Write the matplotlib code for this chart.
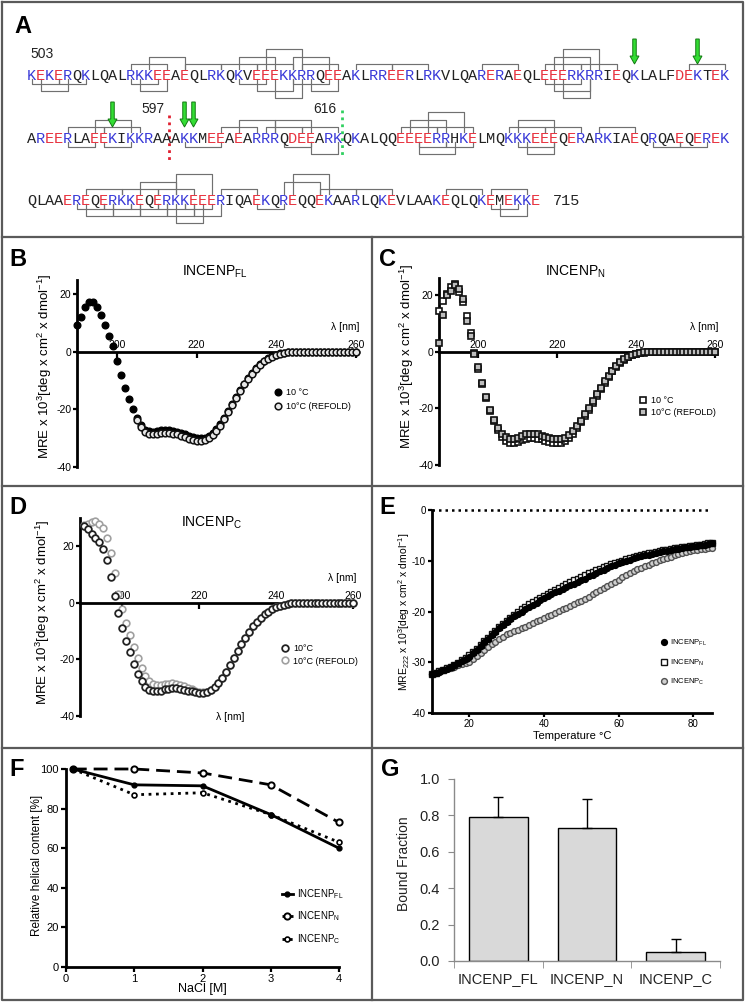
import numpy as np
import matplotlib
matplotlib.use('Agg')
import matplotlib.pyplot as plt
from matplotlib.patches import FancyArrow

plt.rcParams['font.family'] = ['Liberation Sans', 'DejaVu Sans']
plt.rcParams['mathtext.fontset'] = 'custom'
plt.rcParams['mathtext.rm'] = 'Liberation Sans'
plt.rcParams['mathtext.it'] = 'Liberation Sans:italic'
plt.rcParams['mathtext.bf'] = 'Liberation Sans:bold'
plt.rcParams['axes.unicode_minus'] = False

# ---------------- data ----------------
# panel A: INCENP 503-715, salt-bridge brackets (row, i, j, level; <0 = below)
seq_rows = ['KEKERQKLQALRKKEEAEQLRKQKVEEEKKRRQEEAKLRREERLRKVLQARERAEQLEEERKRRIEQKLALFDEKTEK',
            'AREERLAEEKIKKRAAAKKMEEAEARRRQDEEARKQKALQQEEEERRHKELMQKKKEEEQERARKIAEQRQAEQEREK',
            'QLAAEREQERKKEQERKKEEERIQAEKQREQQEKAARLQKEVLAAKEQLQKEMEKKE']
brackets = [
    (0, 11, 15, 1), (0, 13, 17, 2), (0, 17, 21, 1), (0, 21, 25, 1), (0, 23, 27, 2), (0, 25, 29, 1),
    (0, 26, 30, 3), (0, 29, 33, 2), (0, 30, 34, 1), (0, 36, 40, 1), (0, 40, 44, 1), (0, 50, 54, 1),
    (0, 57, 61, 1), (0, 58, 62, 2), (0, 59, 63, 3), (0, 61, 65, 1), (0, 73, 77, 1),
    (0, 0, 3, -1), (0, 3, 6, -1), (0, 1, 4, -2), (0, 11, 14, -1), (0, 12, 15, -2), (0, 23, 26, -1),
    (0, 25, 29, -2), (0, 27, 30, -3), (0, 29, 33, -1), (0, 31, 34, -2), (0, 57, 61, -1),
    (0, 58, 62, -2), (0, 59, 62, -3),
    (1, 4, 8, 1), (1, 8, 12, 1), (1, 7, 11, 2), (1, 21, 25, 1), (1, 26, 30, 1), (1, 30, 34, 1),
    (1, 23, 27, 2), (1, 27, 31, 2), (1, 41, 45, 1), (1, 42, 46, 2), (1, 44, 48, 3), (1, 45, 49, 1),
    (1, 53, 57, 1), (1, 54, 58, 2), (1, 57, 61, 1), (1, 63, 67, 1),
    (1, 4, 7, -1), (1, 8, 11, -1), (1, 17, 21, -1), (1, 28, 31, -1), (1, 31, 34, -2),
    (1, 43, 46, -1), (1, 43, 47, -2), (1, 46, 49, -1), (1, 54, 58, -1), (1, 55, 58, -2),
    (1, 69, 72, -1), (1, 72, 75, -1),
    (2, 6, 10, 1), (2, 10, 14, 1), (2, 12, 16, 2), (2, 14, 18, 1), (2, 16, 20, 3), (2, 21, 25, 1),
    (2, 28, 32, 2), (2, 29, 33, 3), (2, 32, 36, 1), (2, 36, 40, 1), (2, 46, 50, 1), (2, 51, 55, 1),
    (2, 5, 8, -1), (2, 8, 11, -1), (2, 11, 14, -1), (2, 14, 17, -1), (2, 17, 20, -1),
    (2, 6, 9, -2), (2, 9, 12, -2), (2, 12, 15, -2), (2, 15, 18, -2), (2, 18, 21, -2),
    (2, 16, 19, -3), (2, 25, 28, -1), (2, 51, 54, -1), (2, 52, 55, -2),
]
arrow_sites = [(0, 67), (0, 74), (1, 9), (1, 17), (1, 18)]

# panels B-D: far-UV CD spectra, MRE x 10^3
wl = np.arange(190, 261)
B_10 = [9.5, 12.0, 15.5, 17.5, 17.5, 15.5, 13.0, 9.5, 5.5, 2.0,
        -3.0, -8.0, -12.5, -16.5, -20.0, -23.0, -25.5, -27.0, -27.6, -27.7,
        -27.5, -27.3, -27.2, -27.3, -27.5, -27.8, -28.2, -28.7, -29.2, -29.6,
        -29.9, -30.0, -29.8, -29.2, -28.2, -26.8, -25.0, -22.9, -20.6, -18.1,
        -15.6, -13.2, -11.0, -9.0, -7.2, -5.6, -4.2, -3.0, -2.1, -1.4,
        -0.9, -0.5, -0.3, -0.2, -0.1, 0.0, 0.0, 0.0, 0.0, 0.0,
        0.0, 0.0, 0.0, 0.0, 0.0, 0.0, 0.0, 0.0, 0.0, 0.0, 0.0]
wl_B_refold = np.arange(205, 261)
B_refold = [-23.5, -26.0, -27.8, -28.5, -28.6,
            -28.4, -28.2, -28.1, -28.2, -28.4, -28.7, -29.1, -29.6, -30.1, -30.5,
            -30.8, -30.9, -30.6, -30.0, -29.0, -27.5, -25.6, -23.4, -21.0, -18.5,
            -16.0, -13.6, -11.3, -9.3, -7.5, -5.8, -4.4, -3.2, -2.3, -1.6,
            -1.0, -0.6, -0.4, -0.2, -0.1, 0.0, 0.0, 0.0, 0.0, 0.0,
            0.0, 0.0, 0.0, 0.0, 0.0, 0.0, 0.0, 0.0, 0.0, 0.0, 0.0]
C_10 = [14.5, 18.0, 20.5, 23.0, 24.0, 21.0, 17.5, 12.5, 6.5, -0.5,
        -6.0, -11.5, -16.5, -21.0, -24.5, -27.5, -30.0, -31.5, -32.3, -32.3,
        -31.8, -31.2, -30.7, -30.5, -30.5, -30.7, -31.0, -31.5, -31.9, -32.2,
        -32.3, -32.2, -31.6, -30.5, -29.0, -27.0, -25.0, -22.8, -20.5, -18.0,
        -15.6, -13.2, -11.0, -8.9, -7.0, -5.4, -4.0, -2.9, -2.0, -1.3,
        -0.8, -0.5, -0.3, -0.2, -0.1, 0.0, 0.0, 0.0, 0.0, 0.0,
        0.0, 0.0, 0.0, 0.0, 0.0, 0.0, 0.0, 0.0, 0.0, 0.0, 0.0]
C_refold = [3.0, 13.0, 20.0, 21.5, 23.5, 22.0, 18.5, 11.0, 5.5, -0.8,
            -5.5, -11.0, -16.0, -20.5, -24.0, -27.0, -29.0, -30.2, -30.8, -30.8,
            -30.3, -29.7, -29.2, -29.0, -29.0, -29.2, -29.6, -30.0, -30.5, -30.8,
            -31.0, -31.0, -30.5, -29.5, -28.1, -26.3, -24.3, -22.1, -19.8, -17.4,
            -15.0, -12.7, -10.5, -8.5, -6.7, -5.1, -3.8, -2.7, -1.9, -1.2,
            -0.7, -0.4, -0.2, -0.1, 0.0, 0.0, 0.0, 0.0, 0.0, 0.0,
            0.0, 0.0, 0.0, 0.0, 0.0, 0.0, 0.0, 0.0, 0.0, 0.0, 0.0]
D_10 = [27.0, 26.0, 24.5, 22.8, 21.5, 19.0, 15.0, 9.0, 2.5, -3.5,
        -9.0, -13.5, -17.5, -21.5, -25.0, -27.8, -29.8, -30.8, -31.2, -31.2,
        -31.0, -30.6, -30.3, -30.2, -30.2, -30.4, -30.7, -31.0, -31.3, -31.5,
        -31.7, -31.7, -31.4, -30.7, -29.6, -28.2, -26.4, -24.3, -22.0, -19.5,
        -17.0, -14.6, -12.3, -10.2, -8.3, -6.7, -5.3, -4.1, -3.1, -2.3,
        -1.6, -1.0, -0.6, -0.3, -0.15, -0.05, 0.0, 0.0, 0.0, 0.0,
        0.0, 0.0, 0.0, 0.0, 0.0, 0.0, 0.0, 0.0, 0.0, 0.0, 0.0]
D_refold = [27.5, 28.0, 28.5, 28.8, 28.0, 26.5, 23.0, 17.5, 10.5, 3.0,
            -2.0, -7.0, -11.5, -15.5, -19.5, -23.0, -25.8, -27.6, -28.6, -29.0,
            -29.0, -28.8, -28.6, -28.5, -28.6, -28.9, -29.4, -30.0, -30.6, -31.1,
            -31.5, -31.6, -31.4, -30.7, -29.6, -28.2, -26.4, -24.3, -22.0, -19.5,
            -17.0, -14.6, -12.3, -10.2, -8.3, -6.7, -5.3, -4.1, -3.1, -2.3,
            -1.6, -1.0, -0.6, -0.3, -0.15, -0.05, 0.0, 0.0, 0.0, 0.0,
            0.0, 0.0, 0.0, 0.0, 0.0, 0.0, 0.0, 0.0, 0.0, 0.0, 0.0]

# panel E: thermal melts, MRE222 x 10^3
temp = np.arange(10, 86)
E_FL = [-32.3, -32.1, -31.9, -31.6, -31.3, -31.0, -30.6, -30.2, -29.8, -29.4,
        -28.9, -28.2, -27.5, -26.8, -26.1, -25.4, -24.7, -24.0, -23.3, -22.6,
        -22.0, -21.4, -20.9, -20.4, -20.0, -19.6, -19.2, -18.7, -18.3, -17.8,
        -17.4, -17.0, -16.6, -16.2, -15.9, -15.5, -15.2, -14.8, -14.5, -14.1,
        -13.8, -13.5, -13.1, -12.8, -12.4, -12.1, -11.8, -11.4, -11.1, -10.8,
        -10.5, -10.3, -10.0, -9.8, -9.5, -9.3, -9.1, -8.9, -8.8, -8.6,
        -8.4, -8.3, -8.1, -8.0, -7.8, -7.7, -7.6, -7.5, -7.3, -7.2,
        -7.1, -7.0, -6.9, -6.8, -6.7, -6.6]
E_N = [-32.3, -32.1, -31.8, -31.5, -31.2, -30.9, -30.5, -30.1, -29.6, -29.1,
       -28.6, -28.0, -27.3, -26.6, -25.9, -25.2, -24.5, -23.8, -23.1, -22.5,
       -21.8, -21.2, -20.6, -20.1, -19.6, -19.1, -18.6, -18.2, -17.7, -17.3,
       -16.9, -16.5, -16.1, -15.7, -15.3, -14.9, -14.6, -14.2, -13.8, -13.5,
       -13.2, -12.8, -12.5, -12.2, -11.9, -11.6, -11.3, -11.0, -10.7, -10.5,
       -10.2, -10.0, -9.7, -9.5, -9.3, -9.1, -8.9, -8.7, -8.5, -8.4,
       -8.2, -8.1, -7.9, -7.8, -7.7, -7.5, -7.4, -7.3, -7.2, -7.1,
       -7.0, -6.9, -6.8, -6.7, -6.6, -6.5]
E_C = [-32.3, -32.1, -31.9, -31.6, -31.4, -31.1, -30.9, -30.6, -30.4, -30.1,
       -29.9, -29.4, -28.8, -28.2, -27.6, -27.0, -26.5, -26.0, -25.5, -25.0,
       -24.5, -24.2, -23.9, -23.6, -23.3, -23.0, -22.6, -22.3, -21.9, -21.6,
       -21.2, -20.9, -20.6, -20.2, -19.9, -19.6, -19.3, -18.9, -18.6, -18.2,
       -17.9, -17.5, -17.1, -16.6, -16.2, -15.8, -15.4, -15.0, -14.5, -14.1,
       -13.7, -13.3, -12.9, -12.5, -12.1, -11.7, -11.4, -11.1, -10.8, -10.5,
       -10.2, -9.9, -9.7, -9.4, -9.2, -8.9, -8.7, -8.5, -8.3, -8.1,
       -7.9, -7.8, -7.7, -7.6, -7.5, -7.4]

# panel F: helicity vs NaCl
nacl = [0.1, 1, 2, 3, 4]
F_FL = [100, 92, 91.5, 77, 60]
F_N = [100, 100, 98, 92, 73]
F_C = [100, 87, 88, 77, 63]

# panel G: bound fraction
G_names = ['INCENP_FL', 'INCENP_N', 'INCENP_C']
G_vals = [0.79, 0.73, 0.05]
G_err = [0.11, 0.16, 0.07]

# ---------------- figure ----------------
W, H = 745, 1002
fig = plt.figure(figsize=(W / 100, H / 100), dpi=100)


def px_axes(l, t, r, b):
    return fig.add_axes([l / W, 1 - b / H, (r - l) / W, (b - t) / H])


ov = px_axes(0, 0, W, H)
ov.set_xlim(0, W)
ov.set_ylim(H, 0)
ov.axis('off')

# panel frames
fc = '#5a5a5a'
ov.plot([2, 743, 743, 2, 2], [2, 2, 1000, 1000, 2], color=fc, lw=1.6)
for yy in (237, 486, 748):
    ov.plot([2, 743], [yy, yy], color=fc, lw=1.6)
ov.plot([372, 372], [237, 1000], color=fc, lw=1.6)

# panel letters
for lab, x, y in [('A', 14, 26), ('B', 9, 259), ('C', 379, 259), ('D', 9, 508),
                  ('E', 379, 508), ('F', 9, 770), ('G', 381, 770)]:
    ov.text(x, y, lab, fontsize=17, fontweight='bold', ha='left', va='center')

# ---- panel A ----
row_y = [74, 137, 199]
x0, dx = 31.5, 9.0
blue, red = '#3a3ad8', '#e8323f'
for s, y in zip(seq_rows, row_y):
    for i, ch in enumerate(s):
        col = blue if ch in 'KR' else (red if ch in 'ED' else '#222222')
        ov.text(x0 + i * dx, y, ch, color=col, family='Liberation Mono', fontsize=11,
                ha='center', va='center_baseline')

for r, i, j, lvl in brackets:
    y = row_y[r]
    xa, xb = x0 + i * dx, x0 + j * dx
    if lvl > 0:
        yh, yl = y - 10 - (lvl - 1) * 7.5, y - 5
    else:
        yh, yl = y + 10 + (-lvl - 1) * 7, y + 5
    ov.plot([xa, xa, xb, xb], [yl, yh, yh, yl], color='#707070', lw=0.85)

for r, i in arrow_sites:
    y = row_y[r]
    ov.add_patch(FancyArrow(x0 + i * dx, y - 35, 0, 25, width=3.5, head_width=9,
                            head_length=8, length_includes_head=True,
                            fc='#33dd33', ec='#137a13', lw=0.7, zorder=4))

ov.text(30, 54, '503', fontsize=10, ha='left', va='center', color='#222')
ov.text(165, 109, '597', fontsize=10, ha='right', va='center', color='#222')
ov.text(336, 109, '616', fontsize=10, ha='right', va='center', color='#222')
ov.text(553, row_y[2], '715', family='Liberation Mono', fontsize=11, ha='left',
        va='center_baseline', color='#222')
ov.plot([169, 169], [115, 160], color='#e02030', lw=2, ls=(0, (1, 1.5)))
ov.plot([342, 342], [110, 158], color='#30d060', lw=2, ls=(0, (1, 1.5)))


# ---- CD panels ----
def cd_panel(ax, xlo, yhi):
    ax.set_xlim(xlo, 260)
    ax.set_ylim(-40, yhi)
    ax.patch.set_visible(False)
    ax.spines['right'].set_visible(False)
    ax.spines['bottom'].set_visible(False)
    ax.spines['top'].set_position(('data', 0))
    for s in ('top', 'left'):
        ax.spines[s].set_linewidth(2)
    ax.xaxis.set_ticks_position('top')
    ax.set_xticks([200, 220, 240, 260])
    ax.set_yticks([-40, -20, 0, 20])
    ax.tick_params(axis='x', direction='in', length=4, width=1.6, pad=1.5, labelsize=7.5)
    ax.tick_params(axis='y', direction='out', length=3, width=1.6, pad=1, labelsize=7.5)
    ax.text(261, 7, 'λ [nm]', fontsize=7.5, ha='right', va='bottom')


def small_legend(ax, handles, labels, x, y, fs, spacing):
    ax.legend(handles, labels, loc='upper left', bbox_to_anchor=(x, y),
              bbox_transform=ov.transData, frameon=False, fontsize=fs,
              handlelength=0.7, handletextpad=0.5, labelspacing=spacing,
              borderpad=0, borderaxespad=0, numpoints=1)


ylab = 'MRE x 10$^3$[deg x cm$^2$ x dmol$^{-1}$]'
lab_FL = r'INCENP$_\mathrm{FL}$'
lab_N = r'INCENP$_\mathrm{N}$'
lab_C = r'INCENP$_\mathrm{C}$'

# B
axB = px_axes(77, 280, 356, 467)
cd_panel(axB, 190, 25)
hB1, = axB.plot(wl, B_10, 'o', ms=4.8, mfc='black', mec='black', clip_on=False, zorder=3)
hB2, = axB.plot(wl_B_refold, B_refold, 'o', ms=4.8, mfc='#e8e8e8', mec='#111', mew=1.1,
                clip_on=False, zorder=4)
small_legend(axB, [hB1, hB2], ['10 °C', '10°C (REFOLD)'], 275, 388, 6.5, 0.55)
ov.text(215, 272, lab_FL, fontsize=10, ha='center', va='center')
ov.text(45, 366, ylab, fontsize=9.5, rotation=90, ha='center', va='center')

# C
axC = px_axes(439, 278, 715, 465)
cd_panel(axC, 190, 26)
hC1, = axC.plot(wl, C_10, 's', ms=4.5, mfc='white', mec='#111', mew=1.2, clip_on=False, zorder=3)
hC2, = axC.plot(wl, C_refold, 's', ms=4.5, mfc='#bdbdbd', mec='#111', mew=1.2, clip_on=False, zorder=3)
small_legend(axC, [hC1, hC2], ['10 °C', '10°C (REFOLD)'], 640, 396, 6.5, 0.35)
ov.text(575, 272, lab_N, fontsize=10, ha='center', va='center')
ov.text(407, 356, ylab, fontsize=9.5, rotation=90, ha='center', va='center')

# D
axD = px_axes(80, 518, 353, 716)
cd_panel(axD, 189, 30)
hD2, = axD.plot(wl, D_refold, 'o', ms=4.8, mfc='white', mec='#a0a0a0', mew=1.2, clip_on=False, zorder=3)
hD1, = axD.plot(wl, D_10, 'o', ms=4.8, mfc='white', mec='#222', mew=1.3, clip_on=False, zorder=4)
small_legend(axD, [hD1, hD2], ['10°C', '10°C (REFOLD)'], 282, 644, 6.5, 0.4)
axD.text(228, -40.5, 'λ [nm]', fontsize=7.5, ha='center', va='center')
ov.text(212, 523, lab_C, fontsize=10, ha='center', va='center')
ov.text(43, 612, ylab, fontsize=9.5, rotation=90, ha='center', va='center')

# E
axE = px_axes(432, 510, 712, 713)
axE.set_xlim(10, 85)
axE.set_ylim(-40, 0)
axE.patch.set_visible(False)
for s in ('top', 'right'):
    axE.spines[s].set_visible(False)
for s in ('left', 'bottom'):
    axE.spines[s].set_linewidth(2)
axE.set_xticks([20, 40, 60, 80])
axE.set_yticks([-40, -30, -20, -10, 0])
axE.tick_params(direction='out', length=3, width=1.6, pad=1.5, labelsize=7)
axE.plot([10, 84], [0, 0], ls=(0, (1, 1.6)), color='black', lw=1.8, clip_on=False)
hE3, = axE.plot(temp, E_C, 'o', ms=4.2, mfc='#d0d0d0', mec='#505050', mew=1.0, clip_on=False, zorder=3)
hE2, = axE.plot(temp, E_N, 's', ms=4.0, mfc='white', mec='#111', mew=1.0, clip_on=False, zorder=3)
hE1, = axE.plot(temp, E_FL, 'o', ms=4.2, mfc='black', mec='black', clip_on=False, zorder=4)
small_legend(axE, [hE1, hE2, hE3], [lab_FL, lab_N, lab_C], 661, 638, 5.5, 1.2)
axE.set_xlabel('Temperature °C', fontsize=8, labelpad=1)
ov.text(404, 612, r'MRE$_\mathrm{222}$ x 10$^3$[deg x cm$^2$ x dmol$^{-1}$]', fontsize=7.5,
        rotation=90, ha='center', va='center')

# F
axF = px_axes(66, 769, 339, 967)
axF.set_xlim(0, 4)
axF.set_ylim(0, 100)
axF.patch.set_visible(False)
for s in ('top', 'right'):
    axF.spines[s].set_visible(False)
for s in ('left', 'bottom'):
    axF.spines[s].set_linewidth(2)
axF.set_xticks([0, 1, 2, 3, 4])
axF.set_yticks([0, 20, 40, 60, 80, 100])
axF.tick_params(direction='out', length=3.5, width=1.6, pad=1.5, labelsize=8)
hF1, = axF.plot(nacl, F_FL, '-o', color='black', lw=2, ms=3.5, clip_on=False, zorder=4)
hF2, = axF.plot(nacl, F_N, '--o', color='black', lw=2, ms=4.5, mfc='white', mew=1.4,
                dashes=(5, 2.5), clip_on=False, zorder=3)
hF3, = axF.plot(nacl, F_C, ':o', color='black', lw=2, ms=3.5, mfc='white', mew=1.2,
                clip_on=False, zorder=3)
axF.legend([hF1, hF2, hF3], [lab_FL, lab_N, lab_C],
           loc='upper left', bbox_to_anchor=(282, 887), bbox_transform=ov.transData,
           frameon=False, fontsize=7, handlelength=1.1, handletextpad=0.4,
           labelspacing=0.9, borderpad=0, borderaxespad=0, numpoints=1)
axF.set_xlabel('NaCl [M]', fontsize=9, labelpad=-1)
ov.text(37, 865, 'Relative helical content [%]', fontsize=8.5, rotation=90,
        ha='center', va='center')

# G
axG = px_axes(454, 779, 720, 961)
xg = np.arange(len(G_names))
axG.bar(xg, G_vals, width=0.66, color='#d9d9d9', edgecolor='black', lw=1, zorder=2)
axG.errorbar(xg, G_vals, yerr=[np.zeros(len(G_vals)), G_err], fmt='none', ecolor='black',
             elinewidth=1, capsize=3.5, capthick=1, zorder=3)
axG.set_xlim(-0.5, 2.5)
axG.set_ylim(0, 1.0)
for s in ('top', 'right'):
    axG.spines[s].set_visible(False)
for s in ('left', 'bottom'):
    axG.spines[s].set_color('#8a8a8a')
    axG.spines[s].set_linewidth(1)
axG.set_yticks([0, 0.2, 0.4, 0.6, 0.8, 1.0])
axG.set_yticklabels(['0.0', '0.2', '0.4', '0.6', '0.8', '1.0'])
axG.set_xticks(xg)
axG.set_xticklabels(G_names)
axG.set_xticks([-0.5, 0.5, 1.5, 2.5], minor=True)
axG.tick_params(axis='x', which='major', length=0, pad=8, labelsize=10.5, labelcolor='#222')
axG.tick_params(axis='x', which='minor', length=5, color='#8a8a8a', direction='out')
axG.tick_params(axis='y', length=4, color='#8a8a8a', direction='out', pad=6,
                labelsize=10.5, labelcolor='#222')
ov.text(404, 864, 'Bound Fraction', fontsize=10, rotation=90, ha='center', va='center',
        color='#222')

fig.savefig('out.png', dpi=100)
